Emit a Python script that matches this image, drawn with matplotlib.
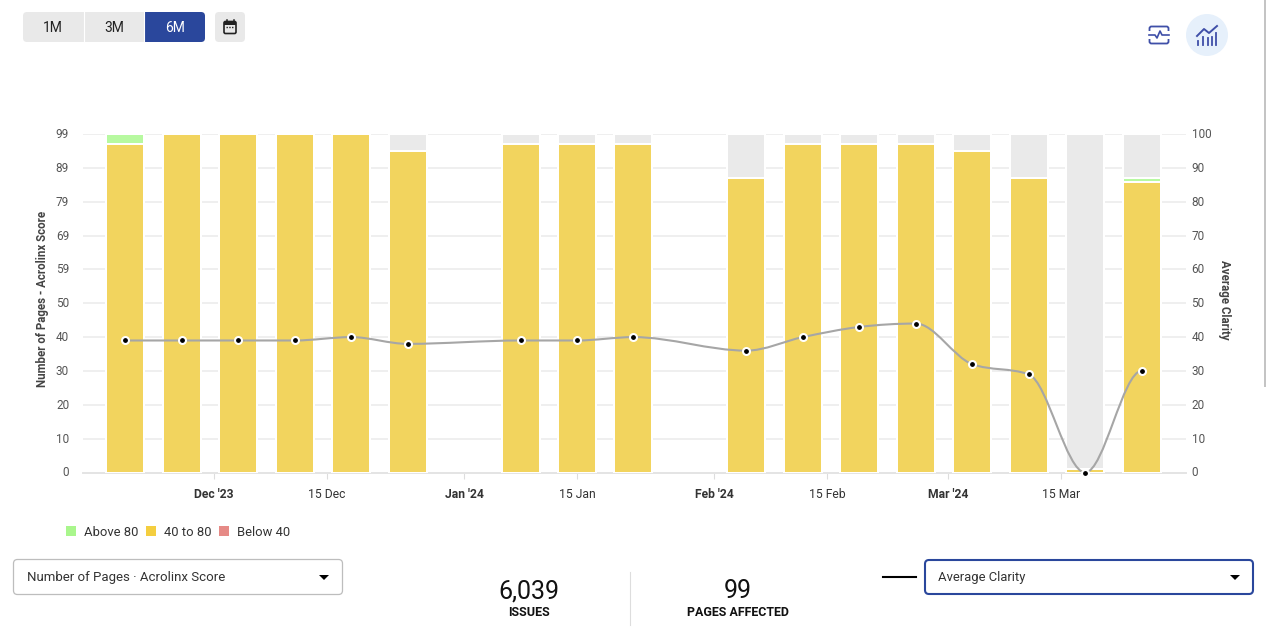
#!/usr/bin/env python3
"""Weekly page counts by score band with average clarity on a second axis."""

from __future__ import annotations

from datetime import datetime

import matplotlib

matplotlib.use("Agg")
import matplotlib.dates as mdates
import matplotlib.pyplot as plt
import numpy as np
from matplotlib.patches import Circle, FancyBboxPatch, Patch, PathPatch, Polygon, Rectangle
from matplotlib.path import Path
from matplotlib.transforms import ScaledTranslation

WEEKS = [
    "2023-11-20", "2023-11-27", "2023-12-04", "2023-12-11", "2023-12-18", "2023-12-25",
    "2024-01-08", "2024-01-15", "2024-01-22",
    "2024-02-05", "2024-02-12", "2024-02-19", "2024-02-26",
    "2024-03-04", "2024-03-11", "2024-03-18", "2024-03-25",
]
MID_40_80 = [96, 99, 99, 99, 99, 94, 96, 96, 96, 86, 96, 96, 96, 94, 86, 1, 85]
ABOVE_80 = [3, 0, 0, 0, 0, 0, 0, 0, 0, 0, 0, 0, 0, 0, 0, 0, 1]
NO_SCORE = [0, 0, 0, 0, 0, 5, 3, 3, 3, 13, 3, 3, 3, 5, 13, 98, 13]
CLARITY = [39, 39, 39, 39, 40, 38, 39, 39, 40, 36, 40, 43, 44, 32, 29, 0, 30]

LEFT_TICKS = [0, 9.9, 19.8, 29.7, 39.6, 49.5, 59.4, 69.3, 79.2, 89.1, 99]
LEFT_LABELS = ["0", "10", "20", "30", "40", "50", "59", "69", "79", "89", "99"]
RIGHT_TICKS = [0, 10, 20, 30, 40, 50, 60, 70, 80, 90, 100]
DATE_TICKS = ["2023-12-01", "2023-12-15", "2024-01-01", "2024-01-15",
              "2024-02-01", "2024-02-15", "2024-03-01", "2024-03-15"]
DATE_LABELS = ["Dec '23", "15 Dec", "Jan '24", "15 Jan", "Feb '24", "15 Feb", "Mar '24", "15 Mar"]
LEGEND_LABELS = ["Above 80", "40 to 80", "Below 40"]

WIDTH, HEIGHT = 1266, 629
GREEN = "#B7F9A0"
YELLOW = "#F2D45E"
GREY = "#EAEAEA"
BLUE = "#2A479C"
ICON = "#3F4FA8"
TEXT = "#333333"

plt.rcParams["font.family"] = ["Roboto", "DejaVu Sans"]


def monotone_path(x: np.ndarray, y: np.ndarray) -> Path:
    """Monotone cubic through the points, as Bezier segments, flat at both ends."""
    h = np.diff(x)
    s = np.diff(y) / h
    t = np.zeros(len(x))
    for i in range(1, len(x) - 1):
        if s[i - 1] * s[i] > 0:
            p = (s[i - 1] * h[i] + s[i] * h[i - 1]) / (h[i - 1] + h[i])
            t[i] = np.sign(s[i]) * min(abs(s[i - 1]), abs(s[i]), 0.5 * abs(p)) * 2
    verts = [(x[0], y[0])]
    codes = [Path.MOVETO]
    for i in range(len(h)):
        verts += [
            (x[i] + h[i] / 3, y[i] + t[i] * h[i] / 3),
            (x[i + 1] - h[i] / 3, y[i + 1] - t[i + 1] * h[i] / 3),
            (x[i + 1], y[i + 1]),
        ]
        codes += [Path.CURVE4] * 3
    return Path(verts, codes)


def round_box(ui, x0, y0, x1, y1, face, edge="none", lw=0.0, radius=4):
    ui.add_patch(FancyBboxPatch((x0 + radius, y0 + radius), x1 - x0 - 2 * radius, y1 - y0 - 2 * radius,
                                boxstyle=f"round,pad={radius},rounding_size={radius}",
                                facecolor=face, edgecolor=edge, linewidth=lw))


def raise_labels(fig, labels, pixels=1.0):
    offset = ScaledTranslation(0, pixels / 100, fig.dpi_scale_trans)
    for label in labels:
        label.set_transform(label.get_transform() + offset)


def draw_chart(fig):
    ax = fig.add_axes([83 / WIDTH, 1 - 472.5 / HEIGHT, (1186 - 83) / WIDTH, (472.5 - 134) / HEIGHT])
    dates = mdates.date2num([datetime.fromisoformat(d) for d in WEEKS])
    mid = np.array(MID_40_80)
    above = np.array(ABOVE_80)
    rest = np.array(NO_SCORE)
    bar = {"width": 4.71, "edgecolor": "white", "linewidth": 1.44, "zorder": 3}
    ax.bar(dates, mid, color=YELLOW, **bar)
    ax.bar(dates[above > 0], above[above > 0], bottom=mid[above > 0], color=GREEN, **bar)
    ax.bar(dates[rest > 0], rest[rest > 0], bottom=(mid + above)[rest > 0], color=GREY, **bar)

    ax.set_xlim(datetime(2023, 11, 14, 18), datetime(2024, 3, 30, 12))
    ax.set_ylim(0, 99)
    ax.set_yticks(LEFT_TICKS, LEFT_LABELS)
    ax.set_xticks([datetime.fromisoformat(d) for d in DATE_TICKS], DATE_LABELS)
    for label in ax.get_xticklabels():
        if "'" in label.get_text():
            label.set_fontweight("bold")
    ax.grid(axis="y", color="#EBEBEB", linewidth=1.1, zorder=0)
    ax.set_axisbelow(True)
    ax.tick_params(axis="y", length=0, labelsize=8.5, labelcolor="#555555", pad=10)
    ax.tick_params(axis="x", length=4, width=0.8, color="#DDDDDD", labelsize=8.7, labelcolor=TEXT, pad=7)
    for side in ("top", "left", "right"):
        ax.spines[side].set_visible(False)
    ax.spines["bottom"].set_color("#E4E4E4")
    ax.spines["bottom"].set_linewidth(1.4)
    raise_labels(fig, ax.get_yticklabels())

    line_ax = ax.twinx()
    line_ax.set_ylim(0, 100)
    line_ax.set_yticks(RIGHT_TICKS)
    line_ax.tick_params(axis="y", length=0, labelsize=8.5, labelcolor="#555555", pad=4)
    for spine in line_ax.spines.values():
        spine.set_visible(False)
    raise_labels(fig, line_ax.get_yticklabels())
    line_ax.add_patch(PathPatch(monotone_path(dates, np.array(CLARITY, dtype=float)), facecolor="none",
                                edgecolor="#A6A6A6", linewidth=1.5, zorder=4, clip_on=False))
    line_ax.plot(dates, CLARITY, linestyle="none", marker="o", markersize=5, markerfacecolor="black",
                 markeredgecolor="white", markeredgewidth=1.5, zorder=5, clip_on=False)

    handles = [Patch(facecolor=c, edgecolor="none") for c in ("#A9F68C", "#F4CE3F", "#E68A86")]
    fig.legend(handles, LEGEND_LABELS, loc="center left", bbox_to_anchor=(55.5 / WIDTH, 1 - 532 / HEIGHT),
               ncol=3, frameon=False, fontsize=9.4, labelcolor=TEXT, handlelength=0.8, handleheight=0.9,
               handletextpad=0.6, columnspacing=0.55, borderpad=0.3)


def draw_controls(ui):
    # range buttons
    round_box(ui, 23, 12, 205, 42, "#E9E9E9")
    round_box(ui, 144.7, 12, 205, 42, BLUE)
    ui.add_patch(Rectangle((144.7, 12), 5, 30, facecolor=BLUE, edgecolor="none"))
    ui.plot([83.5, 83.5], [12, 42], color="white", linewidth=0.8)
    ui.plot([144.2, 144.2], [12, 42], color="white", linewidth=0.8)
    ui.text(53, 27.5, "1M", ha="center", va="center", fontsize=10, color="#222222")
    ui.text(114, 27.5, "3M", ha="center", va="center", fontsize=10, color="#222222")
    ui.text(175, 27.5, "6M", ha="center", va="center", fontsize=10, color="white")

    # calendar button
    round_box(ui, 215, 12, 245, 42, "#E9E9E9")
    round_box(ui, 224, 21.5, 236, 33.5, "none", edge="#222222", lw=1.2, radius=1.5)
    ui.add_patch(Rectangle((224, 21.5), 12, 3, facecolor="#222222", edgecolor="none"))
    ui.plot([226.5, 226.5], [20, 22], color="#222222", linewidth=1.1)
    ui.plot([233.5, 233.5], [20, 22], color="#222222", linewidth=1.1)
    ui.plot([226, 234], [26.5, 26.5], color="#222222", linewidth=1, linestyle=(0, (1, 1)))

    # view icons
    round_box(ui, 1149.5, 26.5, 1168.5, 43.5, "none", edge=ICON, lw=1.3, radius=2)
    ui.add_patch(Rectangle((1147, 31), 4.5, 8, facecolor="white", edgecolor="none"))
    ui.add_patch(Rectangle((1166.5, 31), 4.5, 8, facecolor="white", edgecolor="none"))
    ui.plot([1149, 1155, 1157, 1160, 1162, 1169], [35, 35, 38, 31, 35, 35], color=ICON, linewidth=1.2)
    ui.add_patch(Circle((1207, 35), 21, facecolor="#E6F0FB", edgecolor="none"))
    ui.plot([1197, 1204, 1209, 1217], [36, 29, 33, 26], color=ICON, linewidth=1.4)
    for x, top in [(1198, 41), (1203, 37), (1208, 38), (1212, 37), (1216, 33)]:
        ui.plot([x, x], [top, 45], color=ICON, linewidth=1.3)

    # bottom selectors
    round_box(ui, 13.5, 559.5, 342.5, 594.5, "white", edge="#BDBDBD", lw=0.9)
    ui.text(27, 577, "Number of Pages · Acrolinx Score", va="center", fontsize=9.5, color=TEXT)
    ui.add_patch(Polygon([(319, 575), (329, 575), (324, 580)], facecolor="black", edgecolor="none"))
    ui.plot([883, 916], [577, 577], color="black", linewidth=1.5)
    round_box(ui, 925, 560, 1253, 594, "white", edge=BLUE, lw=1.5)
    ui.text(938, 577, "Average Clarity", va="center", fontsize=9.4, color=TEXT)
    ui.add_patch(Polygon([(1230, 575), (1240, 575), (1235, 580)], facecolor="black", edgecolor="none"))

    # totals
    ui.text(529, 591, "6,039", ha="center", va="center", fontsize=18, color="#111111")
    ui.text(529, 612, "ISSUES", ha="center", va="center", fontsize=9, fontweight="bold", color="#111111")
    ui.plot([629.5, 629.5], [572, 625], color="#DDDDDD", linewidth=0.8)
    ui.text(738, 591, "99", ha="center", va="center", fontsize=18, color="#111111")
    ui.text(738, 612, "PAGES AFFECTED", ha="center", va="center", fontsize=8.9, fontweight="bold", color="#111111")

    # axis titles and page scrollbar
    ui.text(43, 299, "Number of Pages - Acrolinx Score", rotation=90, ha="center", va="center",
            fontsize=8.3, fontweight="bold", color="#444444")
    ui.text(1225, 300, "Average Clarity", rotation=270, ha="center", va="center",
            fontsize=8.3, fontweight="bold", color="#444444")
    ui.add_patch(Rectangle((1264, 0), 2, 387, facecolor="#C4C4C4", edgecolor="none"))


def main() -> int:
    fig = plt.figure(figsize=(WIDTH / 100, HEIGHT / 100), dpi=100)
    ui = fig.add_axes([0, 0, 1, 1], zorder=-1)
    ui.set_xlim(0, WIDTH)
    ui.set_ylim(HEIGHT, 0)
    ui.axis("off")
    draw_controls(ui)
    draw_chart(fig)
    fig.savefig("out.png", dpi=100)
    plt.close(fig)
    return 0


if __name__ == "__main__":
    raise SystemExit(main())
